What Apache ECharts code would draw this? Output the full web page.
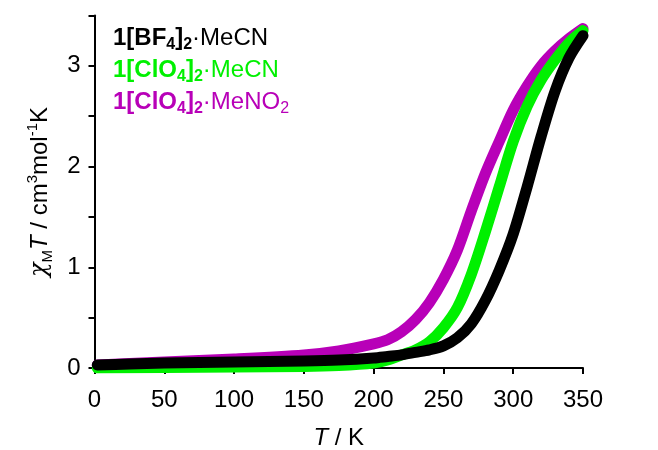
<!DOCTYPE html>
<html>
<head>
<meta charset="utf-8">
<script src="https://cdn.jsdelivr.net/npm/echarts@6/dist/echarts.min.js"></script>
<style>
  html, body { margin: 0; padding: 0; background: #fff; }
  #main { width: 658px; height: 450px; }
</style>
</head>
<body>
<div id="main"></div>
<script>
// chiMT vs T, three salts
var tempBF4 = [2, 25, 50, 75, 100, 125, 150, 175, 200, 210, 220, 230, 240, 250, 260, 270, 280, 290, 300, 310, 320, 330, 340, 350];
var chiBF4 = [0.03, 0.04, 0.05, 0.055, 0.06, 0.065, 0.07, 0.08, 0.1, 0.115, 0.13, 0.155, 0.18, 0.22, 0.3, 0.44, 0.67, 0.97, 1.33, 1.8, 2.3, 2.75, 3.08, 3.3];

var tempClMeCN = [2, 50, 100, 150, 175, 200, 210, 220, 230, 240, 250, 260, 270, 280, 290, 300, 310, 320, 330, 340, 350];
var chiClMeCN = [0.0, 0.005, 0.01, 0.015, 0.025, 0.05, 0.08, 0.13, 0.18, 0.26, 0.4, 0.6, 0.93, 1.35, 1.8, 2.25, 2.6, 2.86, 3.06, 3.23, 3.35];

var tempClMeNO2 = [2, 50, 100, 150, 175, 200, 210, 220, 230, 240, 250, 260, 270, 280, 290, 300, 310, 320, 330, 340, 350];
var chiClMeNO2 = [0.03, 0.06, 0.09, 0.13, 0.17, 0.24, 0.28, 0.36, 0.48, 0.65, 0.88, 1.17, 1.56, 1.93, 2.25, 2.56, 2.8, 3.0, 3.15, 3.27, 3.37];

var xTicks = [0, 50, 100, 150, 200, 250, 300, 350];
var yTicks = [0, 1, 2, 3];

var colBF4 = '#000000';
var colClMeCN = '#00f000';
var colClMeNO2 = '#b800b8';

function pairs(t, v) {
  var out = [];
  for (var i = 0; i < t.length; i++) out.push([t[i], v[i]]);
  return out;
}

function legendRich(color) {
  var f = 'Liberation Sans';
  return {
    b: { fontFamily: f, fontSize: 24, fontWeight: 'bold', fill: color, lineHeight: 30, verticalAlign: 'middle' },
    bs: { fontFamily: f, fontSize: 16, fontWeight: 'bold', fill: color, lineHeight: 16, verticalAlign: 'bottom' },
    n: { fontFamily: f, fontSize: 24, fill: color, lineHeight: 30, verticalAlign: 'middle' },
    s: { fontFamily: f, fontSize: 16, fill: color, lineHeight: 16, verticalAlign: 'bottom' }
  };
}

var myChart = echarts.init(document.getElementById('main'));
myChart.setOption({
  animation: false,
  grid: { left: 94.5, right: 75, top: 15.5, bottom: 82, outerBoundsMode: 'none', containLabel: false },
  xAxis: {
    type: 'value',
    min: 0, max: 350, interval: 50,
    name: '{i|T}{n| / K}',
    nameLocation: 'middle',
    nameGap: 58,
    nameTextStyle: {
      rich: {
        i: { fontFamily: 'Liberation Sans', fontSize: 24, fontStyle: 'italic', color: '#000' },
        n: { fontFamily: 'Liberation Sans', fontSize: 24, color: '#000' }
      }
    },
    axisLine: { onZero: false, lineStyle: { color: '#000', width: 2 } },
    axisTick: { show: true, inside: false, length: 6, lineStyle: { color: '#000', width: 2 } },
    axisLabel: {
      margin: 20,
      fontFamily: 'Liberation Sans', fontSize: 24, color: '#000',
      formatter: function (v) { return xTicks.indexOf(v) >= 0 ? String(v) : ''; }
    },
    splitLine: { show: false }
  },
  yAxis: {
    type: 'value',
    min: 0, max: 3.5, interval: 0.5,
    axisLine: { onZero: false, lineStyle: { color: '#000', width: 2 } },
    axisTick: { show: true, inside: false, length: 6, lineStyle: { color: '#000', width: 2 } },
    axisLabel: {
      margin: 14,
      fontFamily: 'Liberation Sans', fontSize: 24, color: '#000',
      formatter: function (v) { return yTicks.indexOf(v) >= 0 ? String(v) : ''; }
    },
    splitLine: { show: false }
  },
  graphic: [
    {
      type: 'text', x: 40, y: 192, rotation: Math.PI / 2,
      style: {
        text: '{c|χ}{sub|M}{i|T}{n| / cm}{sup|3}{n|mol}{sup|-1}{n|K}',
        align: 'center', verticalAlign: 'middle',
        rich: {
          c: { fontFamily: 'DejaVu Serif', fontSize: 24, fontStyle: 'italic', fill: '#000', lineHeight: 30, verticalAlign: 'middle' },
          i: { fontFamily: 'Liberation Sans', fontSize: 24, fontStyle: 'italic', fill: '#000', lineHeight: 30, verticalAlign: 'middle' },
          n: { fontFamily: 'Liberation Sans', fontSize: 24, fill: '#000', lineHeight: 30, verticalAlign: 'middle' },
          sub: { fontFamily: 'Liberation Sans', fontSize: 15, fill: '#000', lineHeight: 15, verticalAlign: 'bottom' },
          sup: { fontFamily: 'Liberation Sans', fontSize: 15, fill: '#000', lineHeight: 15, verticalAlign: 'top' }
        }
      }
    },
    {
      type: 'text', x: 113, y: 38,
      style: {
        text: '{b|1[BF}{bs|4}{b|]}{bs|2}{n|·MeCN}',
        align: 'left', verticalAlign: 'middle',
        rich: legendRich(colBF4)
      }
    },
    {
      type: 'text', x: 113, y: 70,
      style: {
        text: '{b|1[ClO}{bs|4}{b|]}{bs|2}{n|·MeCN}',
        align: 'left', verticalAlign: 'middle',
        rich: legendRich(colClMeCN)
      }
    },
    {
      type: 'text', x: 113, y: 102,
      style: {
        text: '{b|1[ClO}{bs|4}{b|]}{bs|2}{n|·MeNO}{s|2}',
        align: 'left', verticalAlign: 'middle',
        rich: legendRich(colClMeNO2)
      }
    }
  ],
  series: [
    {
      name: '1[ClO4]2·MeNO2', type: 'line', smooth: 0.3, showSymbol: false,
      lineStyle: { color: colClMeNO2, width: 11, cap: 'round', join: 'round' },
      data: pairs(tempClMeNO2, chiClMeNO2)
    },
    {
      name: '1[ClO4]2·MeCN', type: 'line', smooth: 0.3, showSymbol: false,
      lineStyle: { color: colClMeCN, width: 11, cap: 'round', join: 'round' },
      data: pairs(tempClMeCN, chiClMeCN)
    },
    {
      name: '1[BF4]2·MeCN', type: 'line', smooth: 0.3, showSymbol: false,
      lineStyle: { color: colBF4, width: 11, cap: 'round', join: 'round' },
      data: pairs(tempBF4, chiBF4)
    }
  ]
});
</script>
</body>
</html>
